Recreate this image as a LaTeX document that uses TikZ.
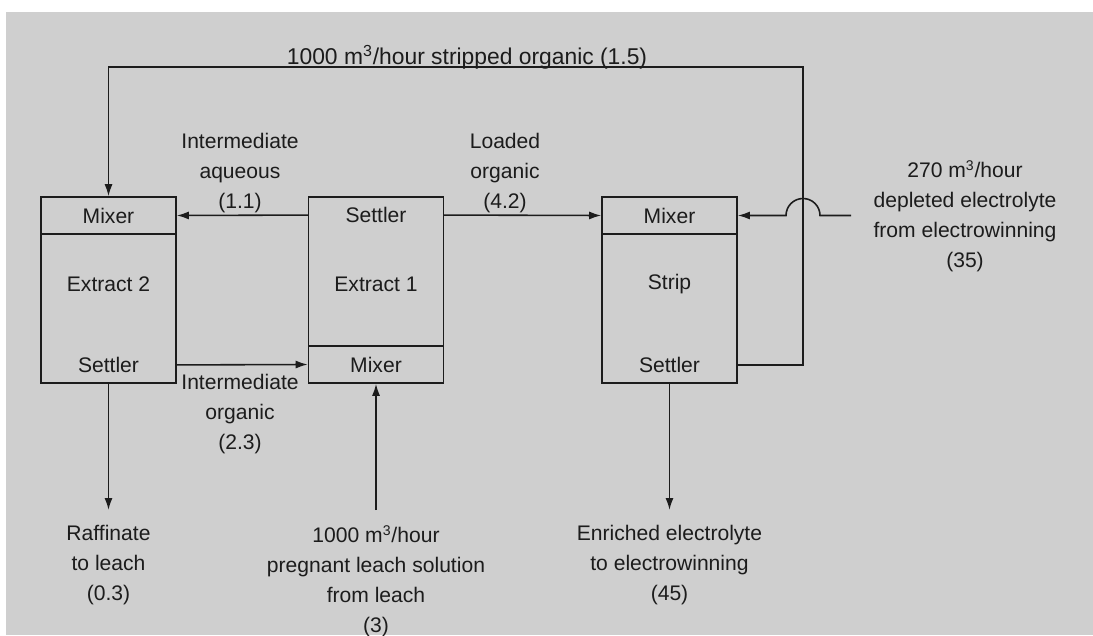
\documentclass[tikz,border=0pt]{standalone}
\usepackage{fontspec}
\setmainfont{Liberation Sans}
\usepackage{xcolor}
\usetikzlibrary{positioning, arrows.meta}
\definecolor{sheetgray}{HTML}{CFCFCF}
\definecolor{inkdark}{HTML}{1C1C1C}

\begin{document}
\begin{tikzpicture}[x=1cm, font=\fontsize{12}{17}\selectfont, text=inkdark,
  unitbox/.style={draw=inkdark, line width=0.9pt, minimum width=2.7cm, minimum height=3.72cm, inner sep=0pt},
  section/.style={minimum width=2.7cm, minimum height=0.74cm, inner sep=0pt},
  outlabel/.style={align=center, anchor=north, inner ysep=0.3cm},
  flow/.style={draw=inkdark, line width=0.9pt, -{Latex[length=2.4mm, width=1.6mm]}}]
% page 1093x635 px at 0.02cm per px; white strip on top and left of the gray sheet
\fill[white] (0,0) rectangle (21.86,12.7);
\fill[sheetgray] (0.12,0) rectangle (21.86,12.46);
\useasboundingbox (0,0) rectangle (21.86,12.7);
% the three mixer-settler units
\node[unitbox] (ex2) at (2.17,6.90) {};
\node[section, draw=inkdark, line width=0.9pt, anchor=north] (ex2mix) at (ex2.north) {Mixer};
\node[section, anchor=south] (ex2set) at (ex2.south) {Settler};
\node (ex2name) at ([yshift=1.2mm]ex2.center) {Extract 2};
\node[unitbox] (ex1) at (7.52,6.90) {};
\node[section, anchor=north] (ex1set) at (ex1.north) {Settler};
\node[section, draw=inkdark, line width=0.9pt, anchor=south] (ex1mix) at (ex1.south) {Mixer};
\node (ex1name) at ([yshift=1.2mm]ex1.center) {Extract 1};
\node[unitbox] (st) at (13.39,6.90) {};
\node[section, draw=inkdark, line width=0.9pt, anchor=north] (stmix) at (st.north) {Mixer};
\node[section, anchor=south] (stset) at (st.south) {Settler};
\node (stname) at ([yshift=1.2mm]st.center) {Strip};
% stream labels
\node[font=\fontsize{13}{17}\selectfont] (orglab) at (9.34,11.56) {1000 m\textsuperscript{3}/hour stripped organic (1.5)};
\node[align=center] (aqlab) at (4.80,9.24) {Intermediate\\aqueous\\(1.1)};
\node[align=center] (ldlab) at (10.10,9.24) {Loaded\\organic\\(4.2)};
\node[align=center] (iolab) at (4.80,4.42) {Intermediate\\organic\\(2.3)};
\node[align=center] (deplab) at (19.30,8.38) {270 m\textsuperscript{3}/hour\\depleted electrolyte\\from electrowinning\\(35)};
\node[outlabel] (raff) at (2.17,2.50) {Raffinate\\to leach\\(0.3)};
\node[outlabel] (feed) at (7.52,2.50) {1000 m\textsuperscript{3}/hour\\pregnant leach solution\\from leach\\(3)};
\node[outlabel] (enr) at (13.39,2.50) {Enriched electrolyte\\to electrowinning\\(45)};
% streams
\coordinate (loopne) at (16.06,11.36);
\coordinate (depin) at (17.02,8.39);
\draw[flow] (ex1set.west) -- (ex2mix.east);
\draw[flow] (ex2set.east) -- (ex1mix.west);
\draw[flow] (ex1set.east) -- (stmix.west);
\draw[flow] (stset.east) -| (loopne) -| (ex2mix.north);
\draw[flow] (depin) -- (16.40,8.39) arc[start angle=0, end angle=180, radius=0.34] -- (stmix.east);
\draw[flow] (ex2.south) -- (raff.north);
\draw[flow] (feed.north) -- (ex1.south);
\draw[flow] (st.south) -- (enr.north);
\end{tikzpicture}
\end{document}
